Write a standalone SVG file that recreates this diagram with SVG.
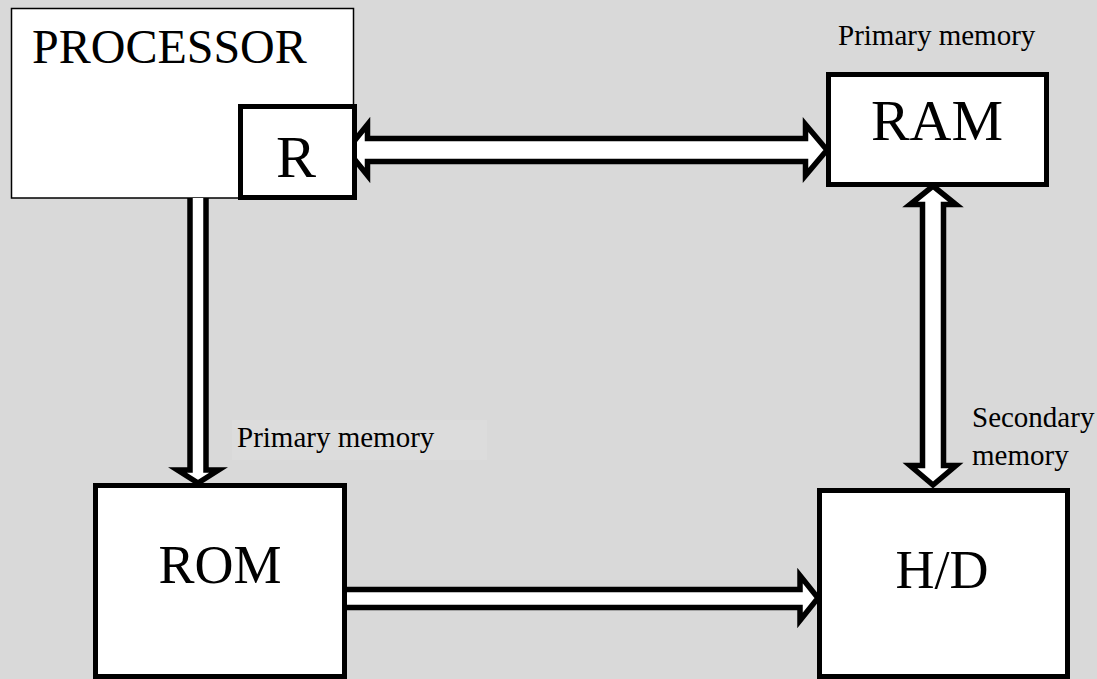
<svg xmlns="http://www.w3.org/2000/svg" width="1097" height="679" viewBox="0 0 1097 679">
  <style>
    .box { fill: #ffffff; stroke: #000000; stroke-width: 5; }
    .thin { fill: #ffffff; stroke: #000000; stroke-width: 1.5; }
    .arrow { fill: #ffffff; stroke: #000000; stroke-width: 5.5; stroke-linejoin: miter; stroke-miterlimit: 10; }
    .big { font-family: "Liberation Serif", "Times New Roman", serif; fill: #000000; }
    .lbl { font-family: "Liberation Serif", "Times New Roman", serif; font-size: 29px; fill: #000000; }
  </style>
  <rect x="0" y="0" width="1097" height="679" fill="#d9d9d9"/>
  <rect x="232" y="420" width="255" height="40" fill="#dcdcdc"/>

  <g id="processor">
    <rect class="thin" x="11.5" y="8.5" width="342" height="189.5"/>
    <text class="big" x="32" y="63" font-size="48">PROCESSOR</text>
  </g>

  <g id="connectors">
    <path class="arrow" d="M347,150 L367.5,124.5 L367.5,138.5 L805.5,138.5 L805.5,124.5 L827,150 L805.5,175.5 L805.5,161.5 L367.5,161.5 L367.5,175.5 Z"/>
    <path class="arrow" d="M190,198 L190,470 L177.5,470 L198,483 L218.5,470 L206,470 L206,198"/>
    <path class="arrow" d="M933,186 L956,204.5 L943.5,204.5 L943.5,465.5 L956,465.5 L933,485 L910,465.5 L922.5,465.5 L922.5,204.5 L910,204.5 Z"/>
    <path class="arrow" d="M345,589.5 L800,589.5 L800,575.5 L818,598 L800,620.5 L800,607.5 L345,607.5"/>
  </g>

  <g id="register">
    <rect class="box" x="240.5" y="106.5" width="114" height="91"/>
    <text class="big" x="296" y="177" font-size="60" text-anchor="middle">R</text>
  </g>

  <g id="ram">
    <rect class="box" x="828.5" y="74.5" width="218" height="110"/>
    <text class="big" x="937" y="140" font-size="58" text-anchor="middle">RAM</text>
    <text class="lbl" x="838" y="45">Primary memory</text>
  </g>

  <g id="rom">
    <rect class="box" x="95.5" y="485.5" width="249" height="191"/>
    <text class="big" x="220" y="583" font-size="54" text-anchor="middle">ROM</text>
    <text class="lbl" x="237" y="447">Primary memory</text>
  </g>

  <g id="hd">
    <rect class="box" x="819.5" y="490.5" width="248" height="186"/>
    <text class="big" x="942" y="588" font-size="54" text-anchor="middle">H/D</text>
    <text class="lbl" x="972" y="427">Secondary</text>
    <text class="lbl" x="972" y="465">memory</text>
  </g>
</svg>
